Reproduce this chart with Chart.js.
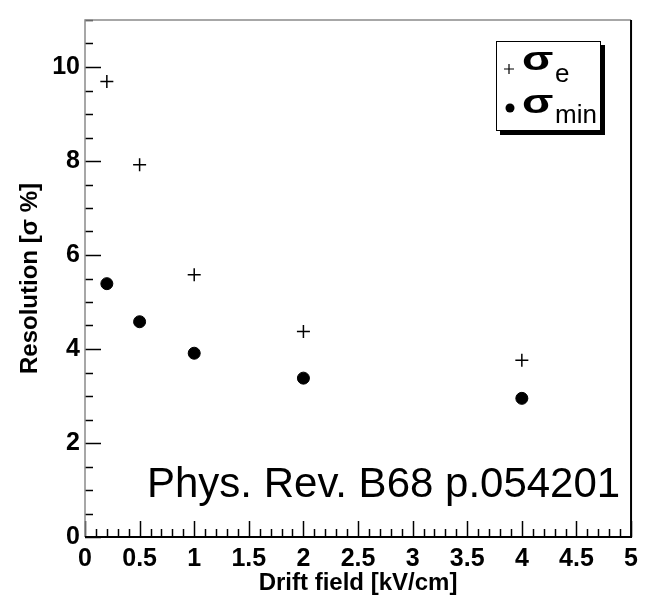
<!DOCTYPE html>
<html>
<head>
<meta charset="utf-8">
<script src="https://cdn.jsdelivr.net/npm/chart.js@4.4.0/dist/chart.umd.min.js"></script>
<style>
  html, body { margin: 0; padding: 0; background: #fff; }
</style>
</head>
<body>
<canvas id="resChart" width="645" height="595"></canvas>
<script>
// drift field points [kV/cm] and measured resolutions [%]
const driftField = [0.2, 0.5, 1, 2, 4];
const sigmaE = [9.69, 7.92, 5.58, 4.37, 3.76];
const sigmaMin = [5.39, 4.58, 3.91, 3.38, 2.95];

const xTickValues = [0, 0.5, 1, 1.5, 2, 2.5, 3, 3.5, 4, 4.5, 5];
const yTickValues = [0, 2, 4, 6, 8, 10];
const refText = 'Phys. Rev. B68 p.054201';

const FONT = '"Liberation Sans", Arial, Helvetica, sans-serif';

function toPoints(xs, ys) {
    return xs.map((x, i) => ({ x: x, y: ys[i] }));
}

// frame, inward ticks, legend box and reference note
const decorations = {
    id: 'decorations',
    afterDraw(chart) {
        const ctx = chart.ctx;
        const area = chart.chartArea;
        const xs = chart.scales.x;
        const ys = chart.scales.y;
        ctx.save();

        // ticks pointing into the plot
        ctx.strokeStyle = '#000';
        ctx.lineWidth = 1.5;
        for (let v = 0; v <= 5.0001; v += 0.1) {
            const px = Math.round(xs.getPixelForValue(v)) + 0.5;
            const major = Math.abs(v / 0.5 - Math.round(v / 0.5)) < 1e-6;
            const len = major ? 16 : 8;
            ctx.beginPath();
            ctx.moveTo(px, area.bottom);
            ctx.lineTo(px, area.bottom - len);
            ctx.stroke();
        }
        for (let v = 0; v <= 11.0001; v += 0.5) {
            const py = Math.round(ys.getPixelForValue(v)) + 0.5;
            const major = Math.abs(v / 2 - Math.round(v / 2)) < 1e-6;
            const len = major ? 16 : 8;
            ctx.beginPath();
            ctx.moveTo(area.left, py);
            ctx.lineTo(area.left + len, py);
            ctx.stroke();
        }

        // frame: light top/left, dark right/bottom
        ctx.lineWidth = 1.5;
        ctx.strokeStyle = '#8a8a8a';
        ctx.beginPath();
        ctx.moveTo(area.left, area.bottom);
        ctx.lineTo(area.left, area.top);
        ctx.lineTo(area.right, area.top);
        ctx.stroke();
        ctx.lineWidth = 2;
        ctx.strokeStyle = '#000';
        ctx.beginPath();
        ctx.moveTo(area.right, area.top);
        ctx.lineTo(area.right, area.bottom);
        ctx.lineTo(area.left, area.bottom);
        ctx.stroke();

        // legend with drop shadow
        const lx = 496, ly = 41, lw = 105, lh = 90;
        ctx.fillStyle = '#000';
        ctx.fillRect(lx + 4, ly + 4, lw, lh);
        ctx.fillStyle = '#fff';
        ctx.fillRect(lx, ly, lw, lh);
        ctx.lineWidth = 1;
        ctx.strokeStyle = '#000';
        ctx.strokeRect(lx + 0.5, ly + 0.5, lw - 1, lh - 1);

        // legend markers
        ctx.lineWidth = 1.2;
        ctx.beginPath();
        ctx.moveTo(504, 69); ctx.lineTo(514, 69);
        ctx.moveTo(509, 64); ctx.lineTo(509, 74);
        ctx.stroke();
        ctx.fillStyle = '#000';
        ctx.beginPath();
        ctx.arc(510, 108, 4.5, 0, Math.PI * 2);
        ctx.fill();

        // legend labels
        ctx.textBaseline = 'alphabetic';
        ctx.textAlign = 'left';
        const sigma = (x, y) => {
            ctx.save();
            ctx.translate(x, y);
            ctx.scale(1.35, 1);
            ctx.font = 'bold 34px ' + FONT;
            ctx.fillText('\u03c3', 0, 0);
            ctx.restore();
        };
        sigma(522, 70);
        sigma(522, 113);
        ctx.font = '26px ' + FONT;
        ctx.fillText('e', 555, 82);
        ctx.fillText('min', 555, 123);

        // reference note
        ctx.font = '42px ' + FONT;
        ctx.fillText(refText, 147, 497);

        ctx.restore();
    }
};

new Chart(document.getElementById('resChart'), {
    type: 'scatter',
    data: {
        datasets: [{
            label: '\u03c3e',
            data: toPoints(driftField, sigmaE),
            pointStyle: 'cross',
            pointRadius: 6.5,
            borderColor: '#000',
            backgroundColor: '#000',
            borderWidth: 1.5
        }, {
            label: '\u03c3min',
            data: toPoints(driftField, sigmaMin),
            pointStyle: 'circle',
            pointRadius: 6,
            borderColor: '#000',
            backgroundColor: '#000',
            borderWidth: 1
        }]
    },
    options: {
        responsive: false,
        animation: false,
        layout: { padding: { top: 9, right: 11, left: 0, bottom: 0 } },
        plugins: {
            legend: { display: false },
            tooltip: { enabled: false }
        },
        scales: {
            x: {
                type: 'linear',
                min: 0,
                max: 5,
                grid: { display: false, drawTicks: false },
                border: { display: false },
                afterBuildTicks: s => { s.ticks = xTickValues.map(v => ({ value: v })); },
                afterFit: s => { s.height = 58; },
                ticks: {
                    padding: 7,
                    color: '#000',
                    font: { family: FONT, size: 25, weight: 'bold' },
                    maxRotation: 0,
                    autoSkip: false,
                    callback: v => String(v)
                },
                title: {
                    display: true,
                    text: 'Drift field [kV/cm]',
                    color: '#000',
                    font: { family: FONT, size: 24, weight: 'bold', lineHeight: 1 },
                    padding: { top: 0, bottom: 0 }
                }
            },
            y: {
                type: 'linear',
                min: 0,
                max: 11,
                grid: { display: false, drawTicks: false },
                border: { display: false },
                afterBuildTicks: s => { s.ticks = yTickValues.map(v => ({ value: v })); },
                afterFit: s => { s.width = 85; },
                ticks: {
                    padding: 5,
                    color: '#000',
                    font: { family: FONT, size: 25, weight: 'bold' },
                    autoSkip: false,
                    callback: v => String(v)
                },
                title: {
                    display: true,
                    text: 'Resolution [\u03c3 %]',
                    color: '#000',
                    font: { family: FONT, size: 24, weight: 'bold', lineHeight: 1 },
                    padding: { top: 18, bottom: 0 }
                }
            }
        }
    },
    plugins: [decorations]
});
</script>
</body>
</html>
